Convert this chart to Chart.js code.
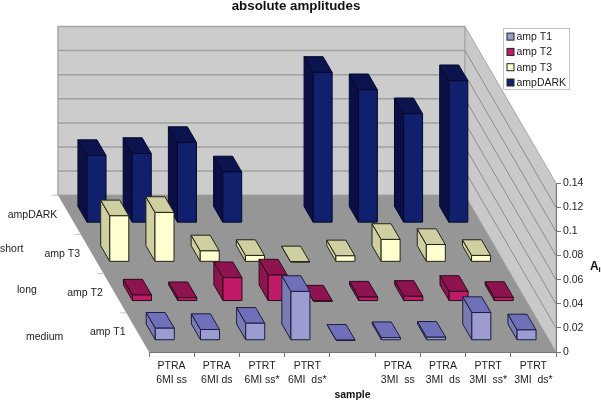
<!DOCTYPE html>
<html><head><meta charset="utf-8">
<style>html,body{margin:0;padding:0;background:#fff}#w{width:601px;height:400px;position:relative}</style>
<script src="https://cdn.jsdelivr.net/npm/chart.js@4"></script>
</head><body><div id="w"><canvas id="c" width="601" height="400"></canvas></div>
<script>
const categories = [['PTRA','6MI ss'],['PTRA','6MI ds'],['PTRT','6MI ss*'],['PTRT','6MI  ds*'],'',['PTRA','3MI  ss'],['PTRA','3MI  ds'],['PTRT','3MI  ss*'],['PTRT','3MI  ds*']];
const seriesNames = ['amp T1','amp T2','amp T3','ampDARK'];
const ampT1 = [0.0100,0.0089,0.0141,0.0405,0,0.0022,0.0025,0.0230,0.0086];
const ampT2 = [0.0050,0.0028,0.0194,0.0216,0,0.0033,0.0039,0.0080,0.0030];
const ampT3 = [0.0382,0.0410,0.0091,0.0053,0,0.0050,0.0186,0.0144,0.0053];
const ampDARK = [0.0557,0.0574,0.0665,0.0421,null,0.1247,0.1103,0.0904,0.1178];
const sideLabels = ['medium','long','short'];

const faces = [
  {front:'#9c9cd2',top:'#6f6fba',side:'#7b7bb4',line:'#1c1c3c'},
  {front:'#c01a68',top:'#8e1450',side:'#8e1450',line:'#2a0a1c'},
  {front:'#ffffcf',top:'#cfcfa2',side:'#cfcfa2',line:'#22221a'},
  {front:'#10206c',top:'#0c1450',side:'#0a0f46',line:'#05082a'}
];
const ROW_DX=-22.75, ROW_DY=-39.2, FRONT=0.3, BACK=0.7;

function poly(ctx,pts,fill,stroke,lw){
  ctx.beginPath();pts.forEach((p,i)=>i?ctx.lineTo(p[0],p[1]):ctx.moveTo(p[0],p[1]));ctx.closePath();
  if(fill){ctx.fillStyle=fill;ctx.fill();}
  if(stroke){ctx.strokeStyle=stroke;ctx.lineWidth=lw||1;ctx.stroke();}
}
const scene = {
  id:'scene',
  afterLayout(chart){
    const t=chart.titleBlock; if(t){t.left=0;t.right=592;}
  },
  beforeDraw(chart){
    const {ctx,chartArea:a,scales:{y}}=chart;
    const dx=ROW_DX*4, dy=ROW_DY*4;
    ctx.save();
    // back wall, side wall, floor
    poly(ctx,[[a.left+dx,a.top+dy+0],[a.right+dx,a.top+dy],[a.right+dx,a.bottom+dy],[a.left+dx,a.bottom+dy]],'#cccccc','#a6a6a6',1.5);
    poly(ctx,[[a.right+dx,a.top+dy],[a.right,a.top],[a.right,a.bottom],[a.right+dx,a.bottom+dy]],'#c9c9c9','#a6a6a6',1);
    y.ticks.forEach(t=>{
      if(t.value===0||t.value>=0.14) return;
      const py=y.getPixelForValue(t.value);
      ctx.beginPath();ctx.moveTo(a.left+dx,py+dy);ctx.lineTo(a.right+dx,py+dy);ctx.strokeStyle='#a0a0a0';ctx.lineWidth=1.5;ctx.stroke();
      ctx.beginPath();ctx.moveTo(a.right+dx,py+dy);ctx.lineTo(a.right,py);ctx.strokeStyle='#7d7d7d';ctx.lineWidth=0.8;ctx.stroke();
    });
    poly(ctx,[[a.left+dx,a.bottom+dy],[a.right+dx,a.bottom+dy],[a.right,a.bottom],[a.left,a.bottom]],'#969696');
    // depth ticks and labels
    for(let k=1;k<=4;k++){
      const x=a.left+ROW_DX*k,yy=a.bottom+ROW_DY*k;
      ctx.beginPath();ctx.moveTo(x,yy);ctx.lineTo(x-6,yy);ctx.strokeStyle='#c4c4c4';ctx.lineWidth=1;ctx.stroke();
    }
    ctx.font='10.5px "Liberation Sans", Arial, sans-serif';ctx.fillStyle='#222';ctx.textBaseline='middle';ctx.textAlign='right';
    chart.data.datasets.forEach((d,k)=>{
      ctx.fillText(d.label,a.left+ROW_DX*(k+0.5)-12,a.bottom+ROW_DY*(k+0.5));
    });
    ctx.textAlign='left';
    ctx.fillText(sideLabels[0],26,337);ctx.fillText(sideLabels[1],17,290);ctx.fillText(sideLabels[2],0,249);
    // value-axis caption
    ctx.font='bold 12px "Liberation Sans", Arial, sans-serif';ctx.fillStyle='#111';
    ctx.fillText('A',590,267);
    ctx.font='bold 8px "Liberation Sans", Arial, sans-serif';ctx.fillText('i',598.5,270);
    // legend
    ctx.fillStyle='#fff';ctx.strokeStyle='#c0c0c0';ctx.lineWidth=1;ctx.fillRect(503.5,28.5,66,61);ctx.strokeRect(503.5,28.5,66,61);
    chart.data.datasets.forEach((d,k)=>{
      const ly=36.6+15.3*k;
      ctx.fillStyle=faces[k].front;ctx.strokeStyle='#222';ctx.fillRect(507,ly-3.5,7,7);ctx.strokeRect(507,ly-3.5,7,7);
      ctx.fillStyle='#222';ctx.font='10.5px "Liberation Sans", Arial, sans-serif';ctx.fillText(d.label,516.5,ly+0.5);
    });
    ctx.restore();
  },
  beforeDatasetsDraw(chart){
    const ctx=chart.ctx;
    ctx.save();
    for(let j=chart.data.datasets.length-1;j>=0;j--){
      const meta=chart.getDatasetMeta(j), f=faces[j];
      meta.data.forEach((bar,i)=>{
        if(chart.data.datasets[j].data[i]===null) return;
        const l=bar.x-bar.width/2, r=bar.x+bar.width/2, top=bar.y, base=bar.base;
        const fx=ROW_DX*(j+FRONT), fy=ROW_DY*(j+FRONT), bx=ROW_DX*(j+BACK), by=ROW_DY*(j+BACK);
        ctx.lineJoin='round';
        poly(ctx,[[l+fx,top+fy],[l+bx,top+by],[l+bx,base+by],[l+fx,base+fy]],f.side,f.line,1);
        poly(ctx,[[l+fx,top+fy],[r+fx,top+fy],[r+bx,top+by],[l+bx,top+by]],f.top,f.line,1);
        poly(ctx,[[l+fx,top+fy],[r+fx,top+fy],[r+fx,base+fy],[l+fx,base+fy]],f.front,f.line,1);
      });
    }
    ctx.restore();
    return false;
  }
};
new Chart(document.getElementById('c'),{
  type:'bar',
  data:{labels:categories,datasets:[ampT1,ampT2,ampT3,ampDARK].map((v,k)=>({label:seriesNames[k],data:v,backgroundColor:faces[k].front,grouped:false,barPercentage:0.42,categoryPercentage:1}))},
  plugins:[scene],
  options:{
    responsive:false,animation:false,
    layout:{padding:{left:149,right:0,top:0,bottom:0}},
    plugins:{
      legend:{display:false},tooltip:{enabled:false},
      title:{display:true,text:'absolute amplitudes',color:'#111',font:{family:'"Liberation Sans", Arial, sans-serif',size:13.3,weight:'bold',lineHeight:0.9},padding:{top:0,bottom:171.3}}
    },
    scales:{
      x:{
        afterFit(s){s.height=48;},
        grid:{drawOnChartArea:false,tickLength:5,tickColor:'#777',offset:true},
        border:{color:'#777'},
        ticks:{autoSkip:false,maxRotation:0,padding:3,color:'#222',font:{family:'"Liberation Sans", Arial, sans-serif',size:10.5,lineHeight:1.25}},
        title:{display:true,text:'sample',color:'#111',font:{family:'"Liberation Sans", Arial, sans-serif',size:10.5,weight:'bold'},padding:{top:0,bottom:-1}}
      },
      y:{
        position:'right',min:0,max:0.14,
        afterFit(s){s.width=45;},
        grid:{drawOnChartArea:false,tickLength:5,tickColor:'#777'},
        border:{color:'#777'},
        ticks:{stepSize:0.02,padding:2,color:'#222',font:{family:'"Liberation Sans", Arial, sans-serif',size:10.5},callback:v=>String(+v.toFixed(2))}
      }
    }
  }
});
</script></body></html>
